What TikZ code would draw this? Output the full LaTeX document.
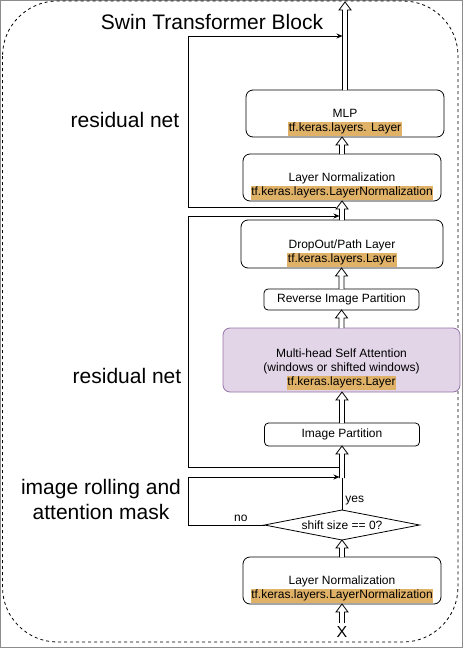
\documentclass[tikz,border=0pt]{standalone}
\usepackage{fontspec}
\setmainfont{Liberation Sans}
\usetikzlibrary{arrows.meta,positioning,calc,shapes.geometric}

\definecolor{hlorange}{RGB}{224,178,104}
\definecolor{attnfill}{RGB}{225,213,231}
\definecolor{attndraw}{RGB}{150,115,166}

% orange background behind the keras class names
\newcommand{\kcls}[1]{{\setlength{\fboxsep}{0pt}\colorbox{hlorange}{\kern0.6pt\strut#1\kern0.6pt}}}
% empty top line of the boxes
\newcommand{\topgap}{\rule{0pt}{13pt}}
% hollow block arrow going up from #1 to #2
\newcommand{\fatarrow}[2]{%
  \draw[fat] ($(#1)+(-2.5,0)$) -- ($(#1 |- #2)+(-2.5,8)$) -- ++(-3.5,0) -- (#1 |- #2)
    -- ($(#1 |- #2)+(6,8)$) -- ++(-3.5,0) -- ($(#1)+(2.5,0)$);}

\begin{document}
\begin{tikzpicture}[
  x=1pt, y=-1pt,
  font=\fontsize{12}{14}\selectfont,
  >={Stealth[length=6pt,width=5pt]},
  box/.style={rounded corners=7pt, draw=black, line width=0.8pt, align=center,
              inner xsep=2pt, inner ysep=0pt, outer sep=0pt,
              minimum width=198pt, minimum height=47pt},
  slim/.style={box, rounded corners=4pt, minimum width=155pt, minimum height=21pt},
  attn/.style={box, fill=attnfill, draw=attndraw, minimum width=237pt, minimum height=64pt},
  cond/.style={diamond, draw=black, line width=0.8pt, inner sep=0pt, outer sep=0pt,
               shape aspect=5, minimum width=155pt, minimum height=30pt},
  res/.style={->, line width=0.8pt},
  plain/.style={line width=0.8pt},
  fat/.style={line width=0.8pt, fill=white, line join=miter},
  side/.style={font=\fontsize{21}{25}\selectfont, align=center},
  lbl/.style={inner sep=3pt},
]
\useasboundingbox (0,0) rectangle (463,648);

% ---------- frame ----------
\draw[black!45, line width=1pt] (0.5,0.5) rectangle (462.5,647.5);
\draw[dash pattern=on 3pt off 3pt, line width=0.8pt, rounded corners=55pt]
  (2.5,1) rectangle (458,642);

% ---------- side labels ----------
\node[side] (title) at (212,22) {Swin Transformer Block};
\node[side] (res1) at (125,120) {residual net};
\node[side] (res2) at (127,376) {residual net};
\node[side] (roll) at (101,499) {image rolling and\\attention mask};

% ---------- main column ----------
\node[font=\fontsize{16}{18}\selectfont] (xin) at (342,632) {X};
\node[box] (lnb) at (342,580.5) {\topgap\\Layer Normalization\\\kcls{tf.keras.layers.LayerNormalization}};
\node[cond] (diam) at (342,525) {shift size == 0?};
\node[slim, minimum height=23pt] (imgp) at (342,434.5) {Image Partition};
\node[attn] (mhsa) at (341.5,360)
  {\topgap\\Multi-head Self Attention\\(windows or shifted windows)\\\kcls{tf.keras.layers.Layer}};
\node[slim] (rev) at (341.5,299.5) {Reverse Image Partition};
\node[box, minimum width=202pt, minimum height=48pt] (drop) at (342,244)
  {\topgap\\DropOut/Path Layer\\\kcls{tf.keras.layers.Layer}};
\node[box] (ln) at (342,177.5) {\topgap\\Layer Normalization\\\kcls{tf.keras.layers.LayerNormalization}};
\node[box] (mlp) at (345,113.5) {\topgap\\MLP\\\kcls{tf.keras.layers. Layer}};

\coordinate (join) at (342,478);
\coordinate (out) at (345,2);

\fatarrow{xin.north}{lnb.south}
\fatarrow{lnb.north}{diam.south}
\fatarrow{join}{imgp.south}
\fatarrow{imgp.north}{mhsa.south}
\fatarrow{mhsa.north}{rev.south}
\fatarrow{rev.north}{drop.south}
\fatarrow{drop.north}{ln.south}
\fatarrow{ln.north}{mlp.south}
\fatarrow{mlp.north}{out}

\draw[plain] (diam.north) -- node[pos=0.3, right, lbl]{yes} (join);

% ---------- skip connections ----------
\coordinate (rail) at (188,0);
\coordinate (sum1) at (336,207);
\coordinate (r1in) at (342.5,36);
\coordinate (rs2) at (339.5,467);
\coordinate (r2in) at (339.5,216);
\coordinate (noin) at (339.5,477);

\draw[res] (sum1) -- (sum1 -| rail) |- (r1in);
\draw[res] (rs2) -- (rs2 -| rail) |- (r2in);
\draw[res] (diam.west) -- node[pos=0.31, above, lbl]{no} (diam.west -| rail) |- (noin);

\end{tikzpicture}
\end{document}
